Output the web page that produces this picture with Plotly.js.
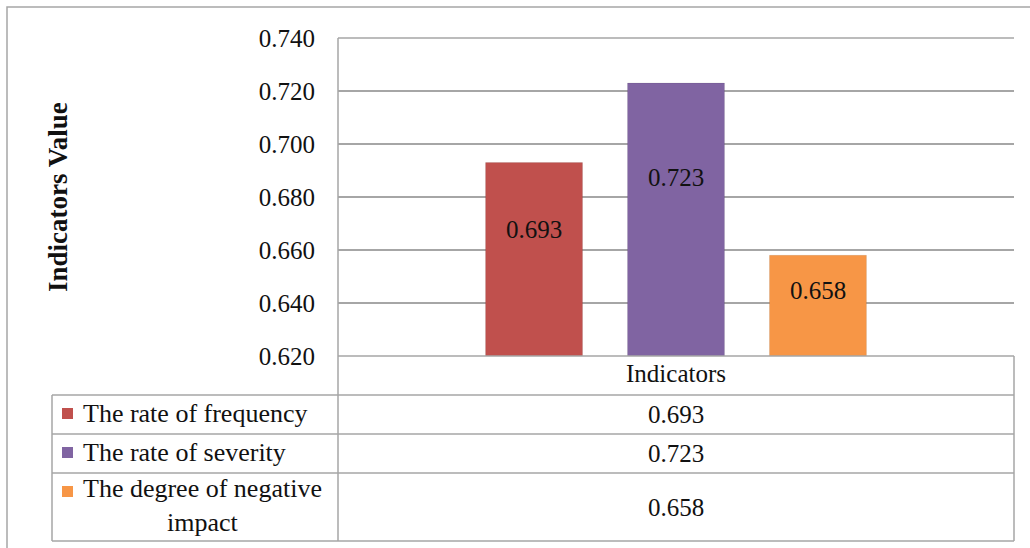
<!DOCTYPE html>
<html>
<head>
<meta charset="utf-8">
<script src="https://cdn.plot.ly/plotly-3.0.1.min.js"></script>
<style>
  html, body { margin: 0; padding: 0; background: #ffffff; }
  #chart { width: 1030px; height: 548px; }
</style>
</head>
<body>
<div id="chart"></div>
<script>
// ---- data ----
const categories = ['Indicators'];
const seriesNames = ['The rate of frequency', 'The rate of severity', 'The degree of negative<br>impact'];
const seriesValues = [0.693, 0.723, 0.658];
const seriesColors = ['#C0504D', '#8064A2', '#F79646'];
const yAxisTitle = 'Indicators Value';
const yRange = [0.62, 0.74];
const yStep = 0.02;

// ---- layout geometry (pixels) ----
const W = 1030, H = 548;
const PL = 338, PR = 1014, PT = 38, PB = 356;
const px = x => (x - PL) / (PR - PL);
const py = y => (PB - y) / (PB - PT);

const FONT = 'Liberation Serif, Times New Roman, Times, serif';
const TXT = '#111111';
const GRID = '#A6A6A6';
const bargap = 0.37, bargroupgap = 0.317;

const traces = seriesNames.map((name, i) => ({
  type: 'bar',
  name: name,
  x: categories,
  y: [seriesValues[i]],
  marker: { color: seriesColors[i], line: { color: 'rgba(0,0,0,0.08)', width: 1 } },
  hoverinfo: 'none'
}));

const shapes = [];
function line(x0, y0, x1, y1, w) {
  shapes.push({ type: 'line', xref: 'paper', yref: 'paper',
    x0: px(x0), y0: py(y0), x1: px(x1), y1: py(y1),
    line: { color: GRID, width: w || 1.5 } });
}
// outer frame
shapes.push({ type: 'rect', xref: 'paper', yref: 'paper',
  x0: px(7), x1: px(1045), y0: py(7), y1: py(570),
  line: { color: GRID, width: 1.5 }, fillcolor: 'rgba(0,0,0,0)' });
// plot/table lines
line(PL, PT, PR, PT);           // top gridline
line(PL, PT, PL, 541);          // left axis + table divider
line(PL, PB, PR, PB);           // x axis / table top
line(PR, PB, PR, 541);          // table right
const rowLines = [395, 434, 473, 541];
rowLines.forEach(y => line(52, y, PR, y));
line(52, 395, 52, 541);         // legend column left

const annotations = [];
// y-axis title
annotations.push({ xref: 'paper', yref: 'paper', x: px(58), y: py((PT + PB) / 2),
  text: '<b>' + yAxisTitle + '</b>', textangle: -90, showarrow: false,
  xanchor: 'center', yanchor: 'middle', font: { family: FONT, size: 27, color: TXT } });

// bar value labels
const slot = (1 - bargap) / seriesValues.length;
seriesValues.forEach((v, i) => {
  const off = (i - (seriesValues.length - 1) / 2) * slot;
  annotations.push({ xref: 'x', yref: 'y', x: off, y: yRange[0] + (v - yRange[0]) * 0.655,
    text: v.toFixed(3), showarrow: false, xanchor: 'center', yanchor: 'middle',
    font: { family: FONT, size: 25, color: TXT } });
});

// table rows
const rowCenters = [414.5, 453.5, 507];
const legendTextY = [413.5, 452.5, 505];
const squareY = [413.5, 452.5, 491.5];
seriesValues.forEach((v, i) => {
  annotations.push({ xref: 'paper', yref: 'paper', x: px((PL + PR) / 2), y: py(rowCenters[i]),
    text: v.toFixed(3), showarrow: false, xanchor: 'center', yanchor: 'middle',
    font: { family: FONT, size: 25, color: TXT } });
  annotations.push({ xref: 'paper', yref: 'paper', x: px(81), y: py(legendTextY[i]),
    text: seriesNames[i], showarrow: false, xanchor: 'left', yanchor: 'middle', align: 'center',
    font: { family: FONT, size: 26, color: TXT } });
  shapes.push({ type: 'rect', xref: 'paper', yref: 'paper',
    x0: px(62), x1: px(73), y0: py(squareY[i] - 5.5), y1: py(squareY[i] + 5.5),
    line: { width: 0 }, fillcolor: seriesColors[i] });
});

const layout = {
  width: W, height: H, autosize: false,
  margin: { l: PL, r: W - PR, t: PT, b: H - PB, pad: 0 },
  paper_bgcolor: '#ffffff', plot_bgcolor: '#ffffff',
  showlegend: false,
  barmode: 'group', bargap: bargap, bargroupgap: bargroupgap,
  font: { family: FONT, size: 25, color: TXT },
  xaxis: { type: 'category', showgrid: false, zeroline: false, showline: false, ticks: '',
    tickfont: { family: FONT, size: 25, color: TXT }, fixedrange: true },
  yaxis: { range: yRange, tick0: yRange[0], dtick: yStep, tickformat: '.3f',
    showgrid: true, gridcolor: GRID, gridwidth: 1.5, zeroline: false, showline: false,
    ticks: '', ticklabelstandoff: 22, tickfont: { family: FONT, size: 25, color: TXT }, fixedrange: true },
  shapes: shapes,
  annotations: annotations
};

Plotly.newPlot('chart', traces, layout, { staticPlot: true, displayModeBar: false });
</script>
</body>
</html>
